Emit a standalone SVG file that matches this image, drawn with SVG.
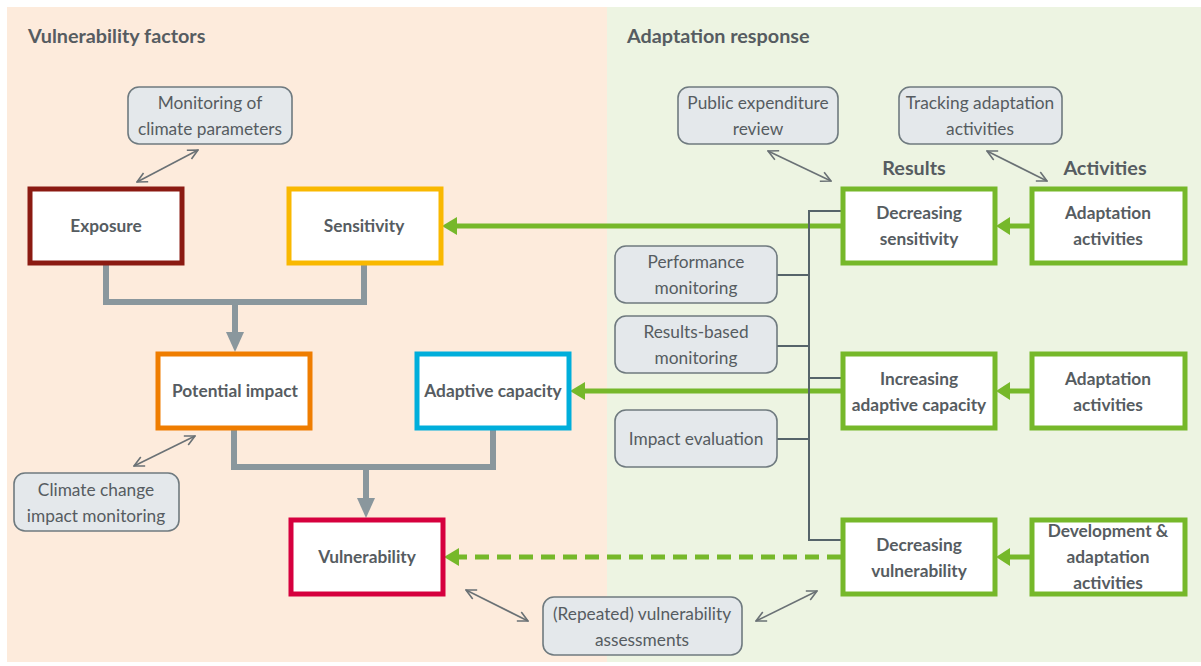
<svg xmlns="http://www.w3.org/2000/svg" width="1201" height="666" viewBox="0 0 1201 666">
<style>
text{font-family:Lato,"Noto Sans","Liberation Sans",sans-serif;fill:#565c61;text-anchor:middle}
.t{font-size:17.3px}
.b{font-size:17.3px;font-weight:bold}
.h{font-size:19.8px;font-weight:bold;text-anchor:start}
.hh{font-size:19.8px;font-weight:bold}
.g rect{fill:#e4e8eb;stroke:#6f7a7f;stroke-width:1.6}
.box{fill:#fff;stroke-width:5}
.gr{stroke:#8a979d;stroke-width:6;fill:none}
.gn{stroke:#76b82a;stroke-width:5;fill:none}
.dk{stroke:#56646a;stroke-width:2;fill:none}
.dbl{stroke:#6a7175;stroke-width:1.6;fill:none;marker-start:url(#oa);marker-end:url(#oa)}
</style>
<defs>
<marker id="oa" viewBox="0 0 12 12" refX="11" refY="6" markerWidth="12" markerHeight="12" markerUnits="userSpaceOnUse" orient="auto-start-reverse">
<path d="M1,1 L11,6 L1,11" fill="none" stroke="#6a7175" stroke-width="1.6"/>
</marker>
</defs>
<rect x="0" y="0" width="1201" height="666" fill="#fff"/>
<rect x="7" y="7" width="600" height="655" fill="#fdebdc"/>
<rect x="607" y="7" width="594" height="655" fill="#edf4e2"/>
<text class="h" x="28" y="43">Vulnerability factors</text>
<text class="h" x="627" y="43">Adaptation response</text>
<text class="hh" x="914" y="175">Results</text>
<text class="hh" x="1105" y="175">Activities</text>

<g id="connectors">
<path class="gr" d="M106,264 V302 H364 V264"/>
<path class="gr" d="M235,302 V336"/>
<path d="M226,332 L244,332 L235,352 Z" fill="#8a979d"/>
<path class="gr" d="M234,430 V467 H493 V430"/>
<path class="gr" d="M366,467 V502"/>
<path d="M357,498 L375,498 L366,518 Z" fill="#8a979d"/>

<path class="gn" d="M841,226 H455"/>
<path d="M442,226 L457,217 L457,235 Z" fill="#76b82a"/>
<path class="gn" d="M841,391 H583"/>
<path d="M570,391 L585,382 L585,400 Z" fill="#76b82a"/>
<path class="gn" d="M841,557 H458" stroke-dasharray="14 8"/>
<path d="M444,557 L459,548 L459,566 Z" fill="#76b82a"/>
<path class="gn" d="M1030,226 H1008"/>
<path d="M996,226 L1010,217 L1010,235 Z" fill="#76b82a"/>
<path class="gn" d="M1030,391 H1008"/>
<path d="M996,391 L1010,382 L1010,400 Z" fill="#76b82a"/>
<path class="gn" d="M1030,557 H1008"/>
<path d="M996,557 L1010,548 L1010,566 Z" fill="#76b82a"/>

<path class="dk" d="M841,211 H809 V540 H841"/>
<path class="dk" d="M777,275 H809 M777,346 H809 M809,378 H841 M777,439 H809"/>

<path class="dbl" d="M198,150 L137,182"/>
<path class="dbl" d="M195,436 L134,466"/>
<path class="dbl" d="M466,590 L528,621"/>
<path class="dbl" d="M756,621 L817,591"/>
<path class="dbl" d="M768,151 L831,181"/>
<path class="dbl" d="M987,151 L1047,181"/>
</g>

<g id="exposure"><rect class="box" x="30" y="189" width="152" height="74" stroke="#8b1a12"/><text class="b" x="106" y="232">Exposure</text></g>
<g id="sensitivity"><rect class="box" x="289" y="189" width="152" height="74" stroke="#f9b800"/><text class="b" x="364" y="232">Sensitivity</text></g>
<g id="potential-impact"><rect class="box" x="158" y="354" width="152" height="74" stroke="#ef7d00"/><text class="b" x="235" y="397">Potential impact</text></g>
<g id="adaptive-capacity"><rect class="box" x="417" y="354" width="152" height="74" stroke="#00aedb"/><text class="b" x="493" y="397">Adaptive capacity</text></g>
<g id="vulnerability"><rect class="box" x="291" y="520" width="152" height="74" stroke="#d6003e"/><text class="b" x="367" y="563">Vulnerability</text></g>

<g id="monitoring-climate" class="g"><rect x="128" y="87" width="164" height="57" rx="11"/><text class="t" x="210" y="109">Monitoring of</text><text class="t" x="210" y="135">climate parameters</text></g>
<g id="climate-impact-monitoring" class="g"><rect x="14" y="473" width="165" height="58" rx="11"/><text class="t" x="96" y="496">Climate change</text><text class="t" x="96" y="522">impact monitoring</text></g>
<g id="repeated-assessments" class="g"><rect x="543" y="597" width="199" height="58" rx="11"/><text class="t" x="642" y="620">(Repeated) vulnerability</text><text class="t" x="642" y="646">assessments</text></g>
<g id="public-expenditure" class="g"><rect x="678" y="87" width="160" height="57" rx="11"/><text class="t" x="758" y="109">Public expenditure</text><text class="t" x="758" y="135">review</text></g>
<g id="tracking" class="g"><rect x="899" y="87" width="163" height="57" rx="11"/><text class="t" x="980" y="109">Tracking adaptation</text><text class="t" x="980" y="135">activities</text></g>
<g id="performance-monitoring" class="g"><rect x="615" y="246" width="162" height="57" rx="11"/><text class="t" x="696" y="268">Performance</text><text class="t" x="696" y="294">monitoring</text></g>
<g id="results-based-monitoring" class="g"><rect x="615" y="316" width="162" height="57" rx="11"/><text class="t" x="696" y="338">Results-based</text><text class="t" x="696" y="364">monitoring</text></g>
<g id="impact-evaluation" class="g"><rect x="615" y="410" width="162" height="57" rx="11"/><text class="t" x="696" y="445">Impact evaluation</text></g>

<g id="decreasing-sensitivity"><rect class="box" x="843" y="189" width="152" height="74" stroke="#76b82a"/><text class="b" x="919" y="219">Decreasing</text><text class="b" x="919" y="245">sensitivity</text></g>
<g id="adaptation-activities-1"><rect class="box" x="1032" y="189" width="153" height="74" stroke="#76b82a"/><text class="b" x="1108" y="219">Adaptation</text><text class="b" x="1108" y="245">activities</text></g>
<g id="increasing-adaptive-capacity"><rect class="box" x="843" y="354" width="152" height="74" stroke="#76b82a"/><text class="b" x="919" y="385">Increasing</text><text class="b" x="919" y="411">adaptive capacity</text></g>
<g id="adaptation-activities-2"><rect class="box" x="1032" y="354" width="153" height="74" stroke="#76b82a"/><text class="b" x="1108" y="385">Adaptation</text><text class="b" x="1108" y="411">activities</text></g>
<g id="decreasing-vulnerability"><rect class="box" x="843" y="520" width="152" height="74" stroke="#76b82a"/><text class="b" x="919" y="551">Decreasing</text><text class="b" x="919" y="577">vulnerability</text></g>
<g id="development-adaptation"><rect class="box" x="1032" y="520" width="153" height="74" stroke="#76b82a"/><text class="b" x="1108" y="537">Development &amp;</text><text class="b" x="1108" y="563">adaptation</text><text class="b" x="1108" y="589">activities</text></g>
</svg>
